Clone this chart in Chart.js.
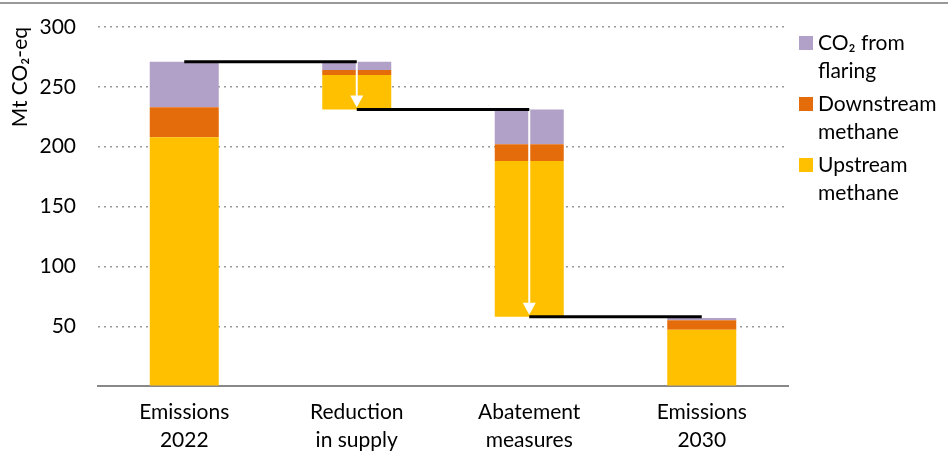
<!DOCTYPE html>
<html>
<head>
<meta charset="utf-8">
<script src="https://cdn.jsdelivr.net/npm/chart.js@4"></script>
<style>
  html, body { margin: 0; padding: 0; background: #fff; overflow: hidden; }
  #wrap { position: relative; width: 948px; height: 453px; }
  #legend { position: absolute; left: 799px; top: 28px; font-family: Lato, sans-serif; font-size: 21px; line-height: 28px; color: #000; }
  .item { position: relative; padding-left: 19px; margin-bottom: 5px; }
  .sw { position: absolute; left: 0; top: 8px; width: 14px; height: 14px; }
</style>
</head>
<body>
<div id="wrap">
  <canvas id="chart" width="948" height="453"></canvas>
  <div id="legend"></div>
</div>
<script>
const categories = [['Emissions', '2022'], ['Reduction', 'in supply'], ['Abatement', 'measures'], ['Emissions', '2030']];
const stepType = ['total', 'decrease', 'decrease', 'total'];
const upstream = [208, 29, 130, 47];
const downstream = [25, 4, 14, 8];
const flaring = [38, 7, 29, 2];
const yTicks = [50, 100, 150, 200, 250, 300];

const purple = '#B1A0C7';
const orange = '#E46C0A';
const yellow = '#FFC000';

// build the floating [from, to] ranges for the waterfall
const upRange = [], downRange = [], flareRange = [];
const levels = [], tops = [], bases = [];
let level = 0;
categories.forEach((c, i) => {
  const total = upstream[i] + downstream[i] + flaring[i];
  const base = stepType[i] === 'total' ? 0 : level - total;
  upRange.push([base, base + upstream[i]]);
  downRange.push([base + upstream[i], base + upstream[i] + downstream[i]]);
  flareRange.push([base + upstream[i] + downstream[i], base + total]);
  bases.push(base);
  tops.push(base + total);
  level = stepType[i] === 'total' ? base + total : base;
  levels.push(level);
});

const FONT = 'Lato, sans-serif';

const waterfallLines = {
  id: 'waterfallLines',
  beforeDraw(chart) {
    const ctx = chart.ctx;
    ctx.save();
    ctx.strokeStyle = '#999';
    ctx.lineWidth = 2;
    ctx.beginPath();
    ctx.moveTo(0, 3);
    ctx.lineTo(chart.width, 3);
    ctx.stroke();
    ctx.restore();
  },
  afterDatasetsDraw(chart) {
    const ctx = chart.ctx;
    const x = chart.scales.x, y = chart.scales.y;
    ctx.save();
    // white arrows inside the decrease bars
    stepType.forEach((t, i) => {
      if (t !== 'decrease') return;
      const cx = x.getPixelForValue(i);
      const y0 = y.getPixelForValue(tops[i]);
      const y1 = y.getPixelForValue(bases[i]) - 2;
      ctx.strokeStyle = '#fff';
      ctx.lineWidth = 2;
      ctx.beginPath();
      ctx.moveTo(cx, y0);
      ctx.lineTo(cx, y1 - 10);
      ctx.stroke();
      ctx.fillStyle = '#fff';
      ctx.beginPath();
      ctx.moveTo(cx - 6.5, y1 - 12);
      ctx.lineTo(cx + 6.5, y1 - 12);
      ctx.lineTo(cx, y1);
      ctx.closePath();
      ctx.fill();
    });
    // black connectors
    ctx.strokeStyle = '#000';
    ctx.lineWidth = 3;
    for (let i = 0; i < categories.length - 1; i++) {
      const yy = y.getPixelForValue(levels[i]);
      ctx.beginPath();
      ctx.moveTo(x.getPixelForValue(i), yy);
      ctx.lineTo(x.getPixelForValue(i + 1), yy);
      ctx.stroke();
    }
    ctx.restore();
  }
};

new Chart(document.getElementById('chart'), {
  type: 'bar',
  data: {
    labels: categories,
    datasets: [
      { label: 'Upstream methane', data: upRange, backgroundColor: yellow },
      { label: 'Downstream methane', data: downRange, backgroundColor: orange },
      { label: 'CO₂ from flaring', data: flareRange, backgroundColor: purple }
    ]
  },
  options: {
    responsive: false,
    animation: false,
    datasets: { bar: { grouped: false, barPercentage: 0.4, categoryPercentage: 1 } },
    layout: { padding: { left: 0, right: 160, top: 27, bottom: -5 } },
    plugins: { legend: { display: false }, tooltip: { enabled: false } },
    scales: {
      x: {
        grid: { display: false },
        border: { color: '#888', width: 2 },
        ticks: { color: '#000', font: { family: FONT, size: 21, lineHeight: 1.33 }, padding: 4, maxRotation: 0 }
      },
      y: {
        min: 0,
        max: 300,
        afterBuildTicks: s => { s.ticks = [0, ...yTicks].map(v => ({ value: v })); },
        afterFit: s => { s.width = 98; s.paddingTop = 0; s.paddingBottom = 0; },
        ticks: { color: '#000', font: { family: FONT, size: 21 }, padding: 22, callback: v => v === 0 ? '' : v },
        grid: { color: c => c.tick && c.tick.value === 0 ? 'rgba(0,0,0,0)' : '#999', lineWidth: 1.5, drawTicks: false },
        border: { display: false, dash: [2, 4] },
        title: { display: true, text: 'Mt CO₂-eq', align: 'end', color: '#000', font: { family: FONT, size: 21 }, padding: { top: 8, bottom: 8 } }
      }
    }
  },
  plugins: [waterfallLines]
});

const legendItems = [['CO₂ from', 'flaring', purple], ['Downstream', 'methane', orange], ['Upstream', 'methane', yellow]];
document.getElementById('legend').innerHTML = legendItems.map(l =>
  `<div class="item"><span class="sw" style="background:${l[2]}"></span>${l[0]}<br>${l[1]}</div>`).join('');
</script>
</body>
</html>
